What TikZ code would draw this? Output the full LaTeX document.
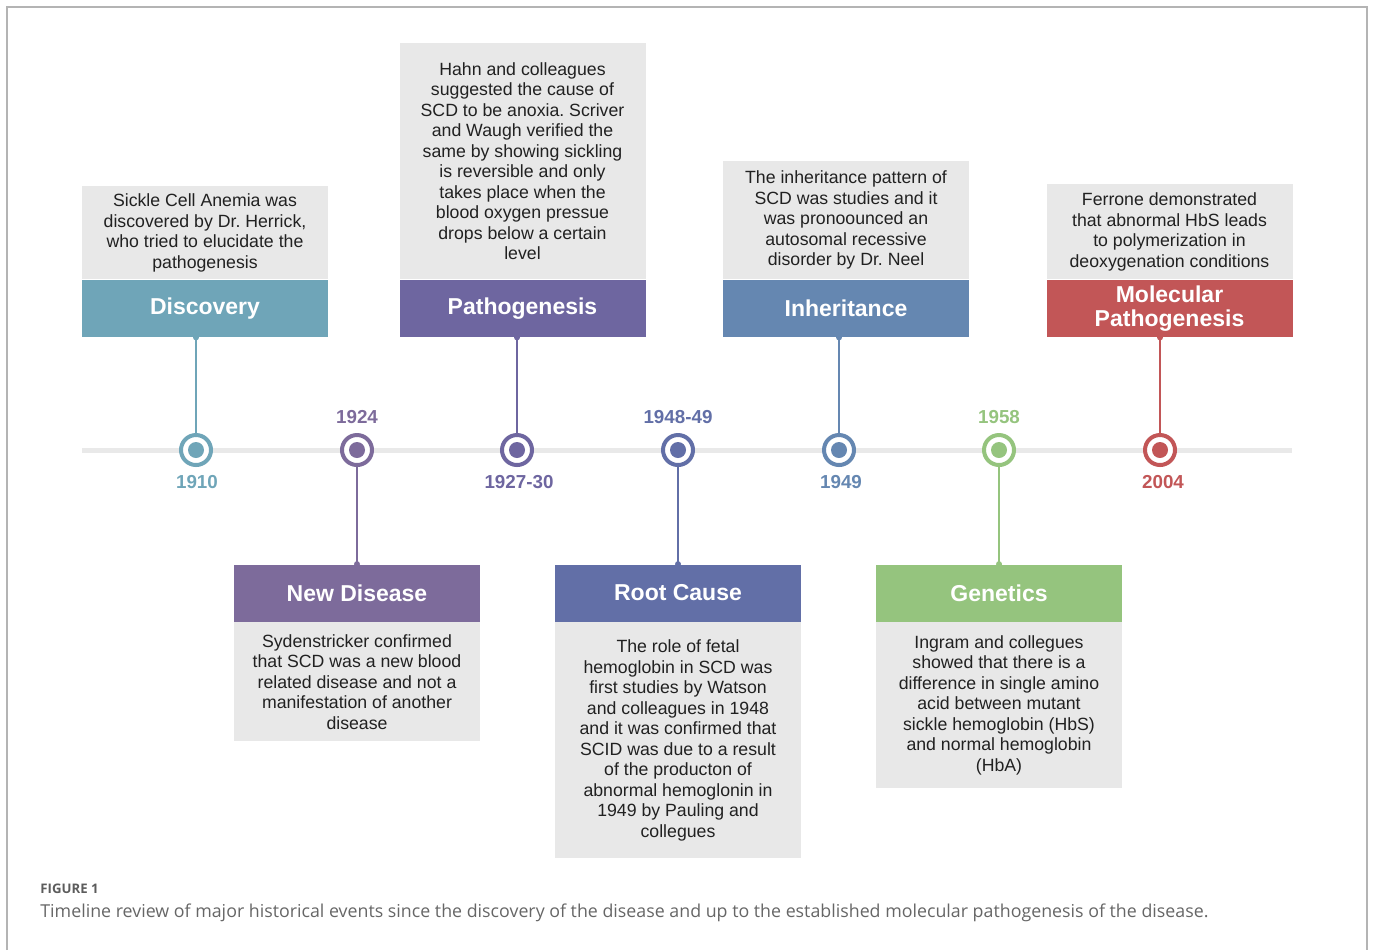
\documentclass[tikz,border=0pt]{standalone}
\usepackage{fontspec}
\setmainfont{Liberation Sans}
\newfontfamily\capfont{Open Sans}
\usetikzlibrary{positioning}
\frenchspacing

\definecolor{discoverycol}{HTML}{6FA5B8}
\definecolor{newdiseasecol}{HTML}{7D6B9B}
\definecolor{pathocol}{HTML}{6E66A0}
\definecolor{rootcol}{HTML}{626FA7}
\definecolor{inheritcol}{HTML}{6587B1}
\definecolor{geneticscol}{HTML}{95C47E}
\definecolor{molecularcol}{HTML}{C25657}
\definecolor{notegray}{HTML}{E8E8E8}
\definecolor{linegray}{HTML}{E9E9E9}
\definecolor{framegray}{HTML}{B4B4B4}
\definecolor{captiongray}{HTML}{666666}

\begin{document}
\begin{tikzpicture}
[x=0.5pt,y=-0.5pt,
 head/.style={rectangle,fill=#1,text=white,inner sep=0pt,align=center,
   minimum width=123pt,minimum height=28.5pt,
   font=\fontsize{11.5}{12}\selectfont\bfseries},
 note/.style={rectangle,fill=notegray,text=black!87,inner sep=0pt,align=center,
   minimum width=123pt,minimum height=#1,
   font=\fontsize{8.85}{10.25}\selectfont},
 milestone/.style={circle,draw=#1,fill=white,line width=2pt,minimum size=15pt,inner sep=0pt,
   path picture={\fill[#1] (path picture bounding box.center) circle (4pt);}},
 year/.style={text=#1,inner sep=0pt,font=\fontsize{9.4}{10}\selectfont\bfseries},
 link/.style={draw=#1,line width=1pt}]

\useasboundingbox (0,0) rectangle (1375,950);
\draw[framegray,line width=1pt] (7,950) -- (7,7) -- (1367,7) -- (1367,950);

% timeline
\coordinate (start) at (82,450);
\coordinate (end) at (1292,450);
\draw[linegray,line width=2.5pt] (start) -- (end);

% events above the line
\node[head=discoverycol] (discovery) at (205,308.5) {Discovery};
\node[note=46.5pt,above=0pt of discovery] (discoverytxt)
  {Sickle Cell Anemia was\\discovered by Dr. Herrick,\\who tried to elucidate the\\pathogenesis};
\node[head=pathocol] (patho) at (522.5,308.5) {Pathogenesis};
\node[note=118pt,above=0pt of patho] (pathotxt)
  {Hahn and colleagues\\suggested the cause of\\SCD to be anoxia. Scriver\\and Waugh verified the\\same by showing sickling\\is reversible and only\\takes place when the\\blood oxygen pressue\\drops below a certain\\level};
\node[head=inheritcol] (inherit) at (846,308.5) {Inheritance};
\node[note=59pt,above=0pt of inherit] (inherittxt)
  {The inheritance pattern of\\SCD was studies and it\\was pronoounced an\\autosomal recessive\\disorder by Dr. Neel};
\node[head=molecularcol] (molecular) at (1169.5,308.5) {Molecular\\Pathogenesis};
\node[note=47.5pt,above=0pt of molecular] (moleculartxt)
  {Ferrone demonstrated\\that abnormal HbS leads\\to polymerization in\\deoxygenation conditions};

% events below the line
\node[head=newdiseasecol] (newdisease) at (357,593) {New Disease};
\node[note=59.5pt,below=0pt of newdisease] (newdiseasetxt)
  {Sydenstricker confirmed\\that SCD was a new blood\\related disease and not a\\manifestation of another\\disease};
\node[head=rootcol] (root) at (678,593) {Root Cause};
\node[note=118pt,below=0pt of root] (roottxt)
  {The role of fetal\\hemoglobin in SCD was\\first studies by Watson\\and colleagues in 1948\\and it was confirmed that\\SCID was due to a result\\of the producton of\\abnormal hemoglonin in\\1949 by Pauling and\\collegues};
\node[head=geneticscol] (genetics) at (999,593) {Genetics};
\node[note=83pt,below=0pt of genetics] (geneticstxt)
  {Ingram and collegues\\showed that there is a\\difference in single amino\\acid between mutant\\sickle hemoglobin (HbS)\\and normal hemoglobin\\(HbA)};

% milestones
\node[milestone=discoverycol] (m1910) at (196,450) {};
\node[milestone=newdiseasecol] (m1924) at (357,450) {};
\node[milestone=pathocol] (m1927) at (517,450) {};
\node[milestone=rootcol] (m1948) at (678,450) {};
\node[milestone=inheritcol] (m1949) at (839,450) {};
\node[milestone=geneticscol] (m1958) at (999,450) {};
\node[milestone=molecularcol] (m2004) at (1160,450) {};

\node[year=discoverycol] (y1910) at (197,482) {1910};
\node[year=newdiseasecol] (y1924) at (357,417) {1924};
\node[year=pathocol] (y1927) at (519,482) {1927-30};
\node[year=rootcol] (y1948) at (678,417) {1948-49};
\node[year=inheritcol] (y1949) at (841,482) {1949};
\node[year=geneticscol] (y1958) at (999,417) {1958};
\node[year=molecularcol] (y2004) at (1163,482) {2004};

% connectors
\draw[link=discoverycol] (m1910) -- (m1910 |- discovery.south);
\draw[link=pathocol] (m1927) -- (m1927 |- patho.south);
\draw[link=inheritcol] (m1949) -- (m1949 |- inherit.south);
\draw[link=molecularcol] (m2004) -- (m2004 |- molecular.south);
\draw[link=newdiseasecol] (m1924) -- (newdisease);
\draw[link=rootcol] (m1948) -- (root);
\draw[link=geneticscol] (m1958) -- (genetics);
\fill[discoverycol] (m1910 |- discovery.south) circle (1.5pt);
\fill[pathocol] (m1927 |- patho.south) circle (1.5pt);
\fill[inheritcol] (m1949 |- inherit.south) circle (1.5pt);
\fill[molecularcol] (m2004 |- molecular.south) circle (1.5pt);
\fill[newdiseasecol] (newdisease.north) circle (1.5pt);
\fill[rootcol] (root.north) circle (1.5pt);
\fill[geneticscol] (genetics.north) circle (1.5pt);

% caption
\node[anchor=west,inner sep=0pt,text=captiongray!90!black,font=\capfont\fontsize{6.6}{7}\selectfont\bfseries]
  (figlabel) at (40,889) {FIGURE 1};
\node[anchor=west,inner sep=0pt,text=captiongray,font=\capfont\fontsize{8.9}{9}\selectfont]
  (caption) at (40,913) {Timeline review of major historical events since the discovery of the disease and up to the established molecular pathogenesis of the disease.};
\end{tikzpicture}
\end{document}
